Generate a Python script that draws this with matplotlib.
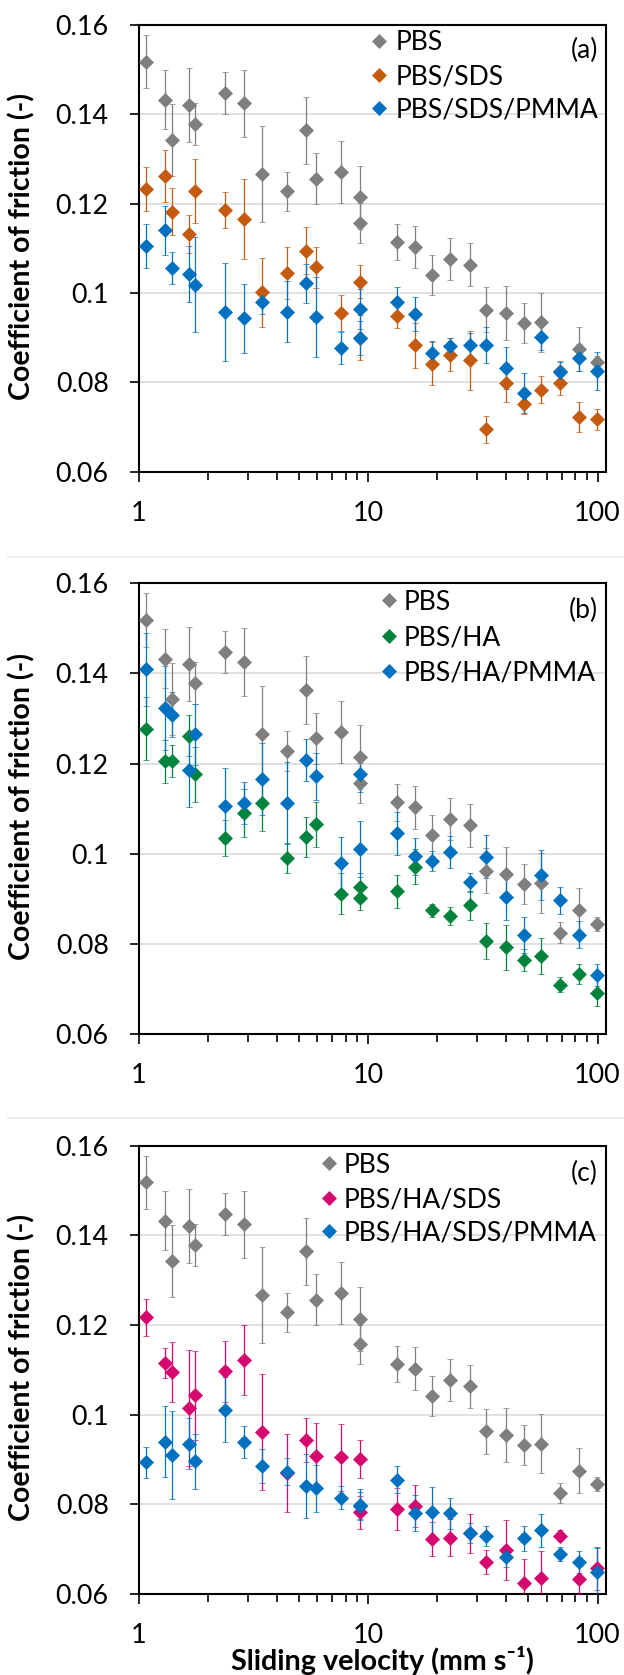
import numpy as np
import matplotlib
matplotlib.use("Agg")
import matplotlib.pyplot as plt
from matplotlib.lines import Line2D
from matplotlib.ticker import LogLocator, NullFormatter, FixedLocator, FixedFormatter

plt.rcParams['font.family'] = ['Lato', 'DejaVu Sans']

# ---------------- data ----------------
velocity = [1.08, 1.31, 1.40, 1.66, 1.76, 2.39, 2.87, 3.45, 4.45, 5.39, 5.95, 7.66, 9.24, 9.24,
            13.4, 15.96, 19.1, 22.86, 27.7, 32.7, 40.0, 48.0, 56.8, 68.8, 83.0, 99.3]

pbs = [0.1518, 0.1433, 0.1343, 0.1421, 0.1379, 0.1448, 0.1425, 0.1266, 0.1228, 0.1364, 0.1256,
       0.1271, 0.1214, 0.1157, 0.1114, 0.1103, 0.1041, 0.1077, 0.1063, 0.0963, 0.0955, 0.0933,
       0.0935, 0.0825, 0.0875, 0.0845]
pbs_err = [0.006, 0.0066, 0.008, 0.0083, 0.0047, 0.0047, 0.0075, 0.0107, 0.0044, 0.0075, 0.0057,
           0.0069, 0.0071, 0.0044, 0.004, 0.0047, 0.0045, 0.0047, 0.0048, 0.005, 0.006, 0.0045,
           0.0066, 0.0023, 0.005, 0.0015]

pbs_sds = [0.1233, 0.1262, 0.1182, 0.1132, 0.1228, 0.1186, 0.1166, 0.1002, 0.1045, 0.1095, 0.1058,
           0.0955, 0.1025, 0.0900, 0.0949, 0.0883, 0.0842, 0.0862, 0.0849, 0.0695, 0.0799, 0.0752,
           0.0784, 0.0799, 0.0722, 0.0717]
pbs_sds_err = [0.005, 0.0058, 0.0053, 0.0043, 0.0072, 0.0041, 0.0089, 0.0077, 0.0059, 0.0053, 0.0046,
               0.004, 0.0037, 0.005, 0.0028, 0.005, 0.0048, 0.0037, 0.0065, 0.003, 0.0044, 0.0022,
               0.003, 0.0028, 0.0033, 0.0023]

pbs_sds_pmma = [0.1106, 0.1140, 0.1056, 0.1043, 0.1019, 0.0958, 0.0943, 0.0979, 0.0958, 0.1022, 0.0946,
                0.0877, 0.0965, 0.0899, 0.0980, 0.0952, 0.0866, 0.0881, 0.0884, 0.0883, 0.0832, 0.0777,
                0.0901, 0.0823, 0.0855, 0.0825]
pbs_sds_pmma_err = [0.0049, 0.0054, 0.0036, 0.0063, 0.0107, 0.011, 0.0077, 0.0025, 0.0068, 0.0044, 0.009,
                    0.0035, 0.0045, 0.0038, 0.0033, 0.0038, 0.0027, 0.0018, 0.0027, 0.004, 0.0047, 0.0045,
                    0.0028, 0.0022, 0.003, 0.0042]

pbs_ha = [0.1278, 0.1205, 0.1206, 0.1262, 0.1177, 0.1035, 0.1091, 0.1113, 0.0991, 0.1038, 0.1066,
          0.0912, 0.0927, 0.0903, 0.0917, 0.0972, 0.0875, 0.0863, 0.0886, 0.0807, 0.0793, 0.0765,
          0.0774, 0.0710, 0.0733, 0.0692]
pbs_ha_err = [0.0069, 0.0048, 0.0035, 0.0046, 0.0061, 0.004, 0.0053, 0.0063, 0.0034, 0.0044, 0.005,
              0.0046, 0.003, 0.0027, 0.0037, 0.0038, 0.0015, 0.002, 0.0032, 0.0039, 0.005, 0.0025,
              0.004, 0.0017, 0.0022, 0.003]

pbs_ha_pmma = [0.1409, 0.1324, 0.1309, 0.1186, 0.1265, 0.1107, 0.1113, 0.1166, 0.1113, 0.1208, 0.1172,
               0.0979, 0.1177, 0.1011, 0.1046, 0.0995, 0.0984, 0.1004, 0.0937, 0.0994, 0.0904, 0.0820,
               0.0953, 0.0897, 0.0821, 0.0731]
pbs_ha_pmma_err = [0.008, 0.0093, 0.005, 0.0083, 0.0067, 0.0083, 0.0046, 0.008, 0.009, 0.0047, 0.0052,
                   0.0059, 0.004, 0.0062, 0.0048, 0.0041, 0.0022, 0.0036, 0.0021, 0.0048, 0.005, 0.004,
                   0.0055, 0.003, 0.003, 0.0024]

pbs_ha_sds = [0.1217, 0.1115, 0.1095, 0.1015, 0.1043, 0.1097, 0.1121, 0.0961, 0.0870, 0.0944, 0.0908,
              0.0905, 0.0901, 0.0782, 0.0789, 0.0797, 0.0722, 0.0726, 0.0735, 0.0671, 0.0698, 0.0625,
              0.0635, 0.0730, 0.0633, 0.0657]
pbs_ha_sds_err = [0.0042, 0.0034, 0.0067, 0.013, 0.010, 0.0068, 0.0078, 0.013, 0.0088, 0.0049, 0.0074,
                  0.0075, 0.0042, 0.0037, 0.0047, 0.0047, 0.0038, 0.0042, 0.0044, 0.0027, 0.0066, 0.0052,
                  0.006, 0.0012, 0.0032, 0.0048]

pbs_ha_sds_pmma = [0.0894, 0.0940, 0.0911, 0.0935, 0.0896, 0.1011, 0.0939, 0.0886, 0.0873, 0.0841, 0.0836,
                   0.0815, 0.0799, 0.0797, 0.0855, 0.0780, 0.0782, 0.0780, 0.0736, 0.0730, 0.0683, 0.0724,
                   0.0742, 0.0689, 0.0672, 0.0650]
pbs_ha_sds_pmma_err = [0.0035, 0.008, 0.0098, 0.0057, 0.0062, 0.0072, 0.0036, 0.0038, 0.003, 0.0071, 0.0052,
                       0.0025, 0.0035, 0.003, 0.003, 0.004, 0.0056, 0.0035, 0.0022, 0.0022, 0.0022, 0.0027,
                       0.0037, 0.0015, 0.0025, 0.0053]

ytick_values = [0.06, 0.08, 0.10, 0.12, 0.14, 0.16]
ytick_labels = ["0.06", "0.08", "0.1", "0.12", "0.14", "0.16"]
xtick_values = [1, 10, 100]
xtick_labels = ["1", "10", "100"]
ylabel_text = "Coefficient of friction (-)"
xlabel_text = "Sliding velocity (mm s\u207b\u00b9)"

GRAY = '#7f7f7f'
ORANGE = '#c55a11'
BLUE = '#0070c0'
GREEN = '#00843d'
MAGENTA = '#d6076f'

panels = [
    dict(tag="(a)", series=[("PBS", pbs, pbs_err, GRAY),
                            ("PBS/SDS", pbs_sds, pbs_sds_err, ORANGE),
                            ("PBS/SDS/PMMA", pbs_sds_pmma, pbs_sds_pmma_err, BLUE)],
         top=25.0, bottom=471.7, leg_rows=[40.7, 75.0, 108.3], leg_mx=379.5, leg_tx=396.0,
         tag_y=50.5),
    dict(tag="(b)", series=[("PBS", pbs, pbs_err, GRAY),
                            ("PBS/HA", pbs_ha, pbs_ha_err, GREEN),
                            ("PBS/HA/PMMA", pbs_ha_pmma, pbs_ha_pmma_err, BLUE)],
         top=583.3, bottom=1034.3, leg_rows=[600.0, 635.5, 671.0], leg_mx=389.0, leg_tx=404.0,
         tag_y=610.5),
    dict(tag="(c)", series=[("PBS", pbs, pbs_err, GRAY),
                            ("PBS/HA/SDS", pbs_ha_sds, pbs_ha_sds_err, MAGENTA),
                            ("PBS/HA/SDS/PMMA", pbs_ha_sds_pmma, pbs_ha_sds_pmma_err, BLUE)],
         top=1145.7, bottom=1594.0, leg_rows=[1163.0, 1197.5, 1231.0], leg_mx=329.0, leg_tx=344.0,
         tag_y=1173.0),
]

W, H = 624, 1675
fig = plt.figure(figsize=(W / 100, H / 100), dpi=100)
renderer = fig.canvas.get_renderer()


def ink_size(s, size, weight='normal'):
    t = fig.text(0, 0, s, fontsize=size, fontweight=weight)
    bb = t.get_window_extent(renderer)
    t.remove()
    return bb.width, bb.height


# font sizes fitted to text widths measured on the reference
TICK_FS = 18 * 53.0 / ink_size("0.14", 18)[0]
_leg_targets = [("PBS/SDS/PMMA", 203.0), ("PBS/HA/PMMA", 193.0), ("PBS/HA/SDS/PMMA", 253.0)]
LEG_FS = 18 * np.mean([w / ink_size(s, 18)[0] for s, w in _leg_targets])
YLAB_FS = 20 * 308.0 / ink_size(ylabel_text, 20, 'bold')[0]
XLAB_FS = 20 * 303.0 / ink_size(xlabel_text, 20, 'bold')[0]
CAP = 0.7165  # Lato cap height (em)

LEFT, RIGHT = 138.5, 606.0
XMAX = 10 ** ((RIGHT - LEFT) / 229.5)


def fy(px):
    return 1 - px / H


for p in panels:
    ax = fig.add_axes([LEFT / W, fy(p['bottom']), (RIGHT - LEFT) / W, (p['bottom'] - p['top']) / H])
    for name, vals, errs, col in p['series']:
        ax.errorbar(velocity, vals, yerr=errs, fmt='D', color=col, ms=7.2, mew=0.5, mec=col,
                    ecolor=col, elinewidth=0.9, capsize=2.4, capthick=0.9, zorder=3)
    ax.set_xscale('log')
    ax.set_xlim(1, XMAX)
    ax.set_ylim(0.06, 0.16)
    ax.yaxis.set_major_locator(FixedLocator(ytick_values))
    ax.yaxis.set_major_formatter(FixedFormatter(ytick_labels))
    ax.xaxis.set_major_locator(FixedLocator(xtick_values))
    ax.xaxis.set_major_formatter(FixedFormatter(xtick_labels))
    ax.xaxis.set_minor_locator(LogLocator(base=10, subs=np.arange(2, 10)))
    ax.xaxis.set_minor_formatter(NullFormatter())
    ax.grid(axis='y', which='major', color='#d9d9d9', lw=1.1)
    ax.set_axisbelow(True)
    for s in ax.spines.values():
        s.set_linewidth(1.5)
        s.set_color('black')
    ax.tick_params(axis='x', which='major', direction='out', length=7, width=1.2, pad=14,
                   labelsize=TICK_FS, top=False)
    ax.tick_params(axis='x', which='minor', direction='out', length=6, width=1.2, top=False)
    ax.tick_params(axis='y', which='major', direction='out', length=6.5, width=1.2, pad=15,
                   labelsize=TICK_FS, right=False)
    ax.tick_params(axis='y', which='minor', left=False, right=False)

    # legend (diamond swatch + label per row)
    cap_px = CAP * LEG_FS * 100 / 72
    for (name, vals, errs, col), ry in zip(p['series'], p['leg_rows']):
        fig.add_artist(Line2D([p['leg_mx'] / W], [fy(ry)], ls='none', marker='D', color=col,
                              ms=7.2, mew=0.5, mec=col))
        fig.text(p['leg_tx'] / W, fy(ry + cap_px / 2), name, ha='left', va='baseline',
                 fontsize=LEG_FS)

    fig.text(598 / W, fy(p['tag_y']), p['tag'], ha='right', va='center', fontsize=LEG_FS)

    fig.text(22 / W, fy((p['top'] + p['bottom']) / 2 - 2), ylabel_text,
             rotation=90, ha='center', va='center', fontsize=YLAB_FS, fontweight='bold')

fig.text(382 / W, fy(1670), xlabel_text, ha='center', va='baseline',
         fontsize=XLAB_FS, fontweight='bold')

for ysep in [556.7, 1118.0]:
    fig.add_artist(Line2D([8 / W, 1.0], [fy(ysep)] * 2, color='#ededed', lw=1.5))

fig.savefig("out.png", dpi=100)
